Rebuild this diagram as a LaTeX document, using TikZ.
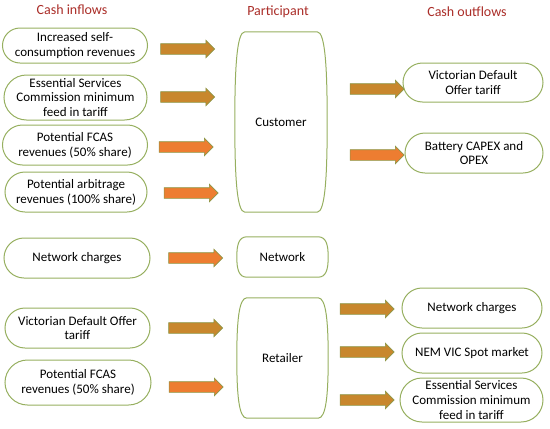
\documentclass[tikz,border=0pt]{standalone}
\usepackage{fontspec}
\setmainfont{Carlito}
\usetikzlibrary{calc,shapes.misc,shapes.arrows,positioning}
\definecolor{headred}{RGB}{170,45,40}
\definecolor{boxgreen}{RGB}{150,175,95}
\definecolor{arrorange}{RGB}{237,125,49}
\definecolor{arrbrown}{RGB}{200,135,45}
\definecolor{arrline}{RGB}{140,150,70}
% barrel outline round a participant node
\newcommand{\partshape}[1]{%
  \draw[draw=boxgreen,line width=1pt] ($(#1.north west)+(10,0)$) -- ($(#1.north east)+(-10,0)$)
    .. controls ($(#1.north east)+(-2,0)$) and ($(#1.north east)!0.4!(#1.east)$) .. (#1.east)
    .. controls ($(#1.south east)!0.4!(#1.east)$) and ($(#1.south east)+(-2,0)$) .. ($(#1.south east)+(-10,0)$)
    -- ($(#1.south west)+(10,0)$)
    .. controls ($(#1.south west)+(2,0)$) and ($(#1.south west)!0.4!(#1.west)$) .. (#1.west)
    .. controls ($(#1.north west)!0.4!(#1.west)$) and ($(#1.north west)+(2,0)$) .. cycle;}

\begin{document}
\begin{tikzpicture}[x=1pt,y=-1pt,
  head/.style={text=headred,font=\fontsize{14}{16}\selectfont},
  flowbox/.style={rounded rectangle,draw=boxgreen,line width=1pt,align=center,
    inner sep=0pt,font=\fontsize{13}{14.8}\selectfont},
  partbox/.style={rectangle,inner sep=0pt,font=\fontsize{13}{14.8}\selectfont},
  blockarr/.style={single arrow,draw=arrline,line width=0.6pt,fill=#1,inner sep=5pt,
    single arrow head extend=3.5pt,minimum height=54pt}]
\useasboundingbox (0,0) rectangle (550,429);
% column titles
\node[head] (tin) at (72,10) {Cash inflows};
\node[head] (tpart) at (278,12) {Participant};
\node[head] (tout) at (467,12) {Cash outflows};
% participants
\node[partbox,minimum width=92pt,minimum height=180pt] (cust) at (281,122) {Customer};
\node[partbox,minimum width=91pt,minimum height=40pt] (netw) at (282.5,257) {Network};
\node[partbox,minimum width=91pt,minimum height=120pt] (retl) at (282.5,358) {Retailer};
\partshape{cust}
\partshape{netw}
\partshape{retl}
% inflows
\node[flowbox,minimum width=145pt,minimum height=35pt] (in1) at (75,45.5) {Increased self-\\consumption revenues};
\node[flowbox,minimum width=143pt,minimum height=45pt] (in2) at (75.5,97.5) {Essential Services\\Commission minimum\\feed in tariff};
\node[flowbox,minimum width=145pt,minimum height=40pt] (in3) at (75,145) {Potential FCAS\\revenues (50\% share)};
\node[flowbox,minimum width=142pt,minimum height=40pt] (in4) at (76,192) {Potential arbitrage\\revenues (100\% share)};
\node[flowbox,minimum width=146pt,minimum height=40pt] (in5) at (77,258) {Network charges};
\node[flowbox,minimum width=145pt,minimum height=40pt] (in6) at (77.5,328) {Victorian Default Offer\\tariff};
\node[flowbox,minimum width=146pt,minimum height=45pt] (in7) at (78,382.5) {Potential FCAS\\revenues (50\% share)};
% outflows
\node[flowbox,minimum width=140pt,minimum height=39pt] (out1) at (473,82.5) {Victorian Default\\Offer tariff};
\node[flowbox,minimum width=138pt,minimum height=40pt] (out2) at (474,153) {Battery CAPEX and\\OPEX};
\node[flowbox,minimum width=140pt,minimum height=40pt] (out3) at (472,308) {Network charges};
\node[flowbox,minimum width=140pt,minimum height=40pt] (out4) at (472,353) {NEM VIC Spot market};
\node[flowbox,minimum width=143pt,minimum height=44pt] (out5) at (471.5,400) {Essential Services\\Commission minimum\\feed in tariff};
% arrows in
\node[blockarr=arrbrown] (a1) at (185,49) {};
\node[blockarr=arrbrown] (a2) at (185,97) {};
\node[blockarr=arrorange] (a3) at (183.5,147) {};
\node[blockarr=arrorange] (a4) at (188.5,193) {};
\node[blockarr=arrorange] (a5) at (193,258) {};
\node[blockarr=arrbrown] (a6) at (193,328) {};
\node[blockarr=arrorange] (a7) at (193.5,387) {};
% arrows out
\node[blockarr=arrbrown] (b1) at (374.5,89) {};
\node[blockarr=arrorange] (b2) at (374.5,155) {};
\node[blockarr=arrbrown] (b3) at (364.5,309) {};
\node[blockarr=arrbrown] (b4) at (364.5,352) {};
\node[blockarr=arrbrown] (b5) at (364.5,400) {};
\end{tikzpicture}
\end{document}
